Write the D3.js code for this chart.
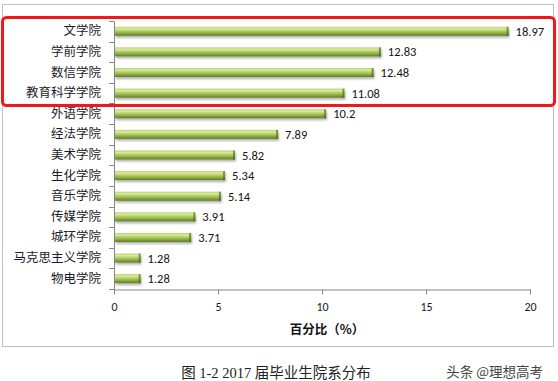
<!DOCTYPE html>
<html><head><meta charset="utf-8">
<script src="https://cdn.jsdelivr.net/npm/d3@7"></script>
<style>
body{margin:0;background:#fff;}
svg{display:block;}
</style></head>
<body><svg id="c" width="558" height="381"></svg>
<script>
const categories = ["文学院","学前学院","数信学院","教育科学学院","外语学院","经法学院","美术学院","生化学院","音乐学院","传媒学院","城环学院","马克思主义学院","物电学院"];
const values = [18.97,12.83,12.48,11.08,10.2,7.89,5.82,5.34,5.14,3.91,3.71,1.28,1.28];
const xTicks = [0,5,10,15,20];
const axisTitle = "百分比（%）";
const caption = "图 1-2  2017 届毕业生院系分布";
const watermark = "头条 @理想高考";

const svg = d3.select("#c");
const defs = svg.append("defs");
const g = defs.append("linearGradient").attr("id","bar").attr("x1",0).attr("y1",0).attr("x2",0).attr("y2",1);
[[0,"#b5cd66"],[0.2,"#dcebA0"],[0.45,"#b4d068"],[0.7,"#8fae45"],[1,"#5e7a26"]].forEach(s=>g.append("stop").attr("offset",s[0]).attr("stop-color",s[1]));
const gc = defs.append("linearGradient").attr("id","cap").attr("x1",0).attr("y1",0).attr("x2",0).attr("y2",1);
[[0,"#7f9a3c"],[0.5,"#6d8a30"],[1,"#4e6a1c"]].forEach(s=>gc.append("stop").attr("offset",s[0]).attr("stop-color",s[1]));
const f = defs.append("filter").attr("id","sh").attr("x","-5%").attr("y","-50%").attr("width","115%").attr("height","250%");
f.append("feDropShadow").attr("dx",1).attr("dy",2).attr("stdDeviation",1).attr("flood-color","#000").attr("flood-opacity",0.3);

// frame
svg.append("rect").attr("x",2.5).attr("y",4.5).attr("width",551).attr("height",342).attr("fill","#fff").attr("stroke","#bfbfbf").attr("stroke-width",1);

const x = d3.scaleLinear().domain([0,20]).range([114,530]);
const y = d3.scaleBand().domain(categories).range([21,289]).padding(0);
const barH = 9;

// category axis
const ya = svg.append("g").attr("transform","translate(114,0)")
  .call(d3.axisLeft(y).tickSize(0).tickPadding(13));
ya.select(".domain").attr("stroke","#868686");
ya.selectAll("text").attr("font-family","'Noto Sans CJK SC', sans-serif").attr("font-size",12.5).attr("fill","#1a1a2a");
// boundary ticks
svg.append("g").selectAll("line").data(categories.concat(["__end"])).join("line")
  .attr("x1",109).attr("x2",114)
  .attr("y1",(d,i)=>Math.round(y.range()[0]+i*y.step())+0.5)
  .attr("y2",(d,i)=>Math.round(y.range()[0]+i*y.step())+0.5)
  .attr("stroke","#868686");

// x axis
const xa = svg.append("g").attr("transform","translate(0,289.5)")
  .call(d3.axisBottom(x).tickValues(xTicks).tickSize(5).tickSizeOuter(0).tickPadding(8));
xa.select(".domain").attr("stroke","#868686");
xa.selectAll("line").attr("stroke","#868686");
xa.selectAll("text").attr("font-family","Carlito, 'Open Sans', sans-serif").attr("font-size",12).attr("fill","#1a1a1a");

// bars
const bars = svg.append("g");
categories.forEach((c,i)=>{
  const cy = y(c)+y.bandwidth()/2;
  const v = values[i];
  bars.append("rect").attr("x",x(0)+1).attr("y",cy-barH/2).attr("width",x(v)-x(0)-1).attr("height",barH)
    .attr("fill","url(#bar)").attr("filter","url(#sh)");
  bars.append("rect").attr("x",x(v)-2).attr("y",cy-barH/2).attr("width",2).attr("height",barH).attr("fill","url(#cap)");
  bars.append("text").attr("x",x(v)+7).attr("y",cy).attr("dy","0.36em")
    .attr("font-family","Carlito, 'Open Sans', sans-serif").attr("font-size",12.5).attr("fill","#111")
    .text(String(v));
});

// axis title
svg.append("text").attr("x",327).attr("y",334).attr("text-anchor","middle")
  .attr("font-family","'Noto Sans CJK SC', sans-serif").attr("font-weight","bold").attr("font-size",12.5).attr("fill","#111")
  .text(axisTitle);

// red highlight box
svg.append("rect").attr("x",2.5).attr("y",17.5).attr("width",552).attr("height",88).attr("rx",4)
  .attr("fill","none").attr("stroke","#f01818").attr("stroke-width",3);

// caption
svg.append("text").attr("x",276).attr("y",378).attr("text-anchor","middle")
  .attr("font-family","'Liberation Serif', 'Noto Sans CJK SC', serif").attr("font-size",14.5).attr("fill","#222")
  .text(caption);
svg.append("text").attr("x",543).attr("y",377).attr("text-anchor","end")
  .attr("font-family","'Noto Sans CJK SC', sans-serif").attr("font-size",13.5).attr("fill","#444")
  .text(watermark);
</script></body></html>
